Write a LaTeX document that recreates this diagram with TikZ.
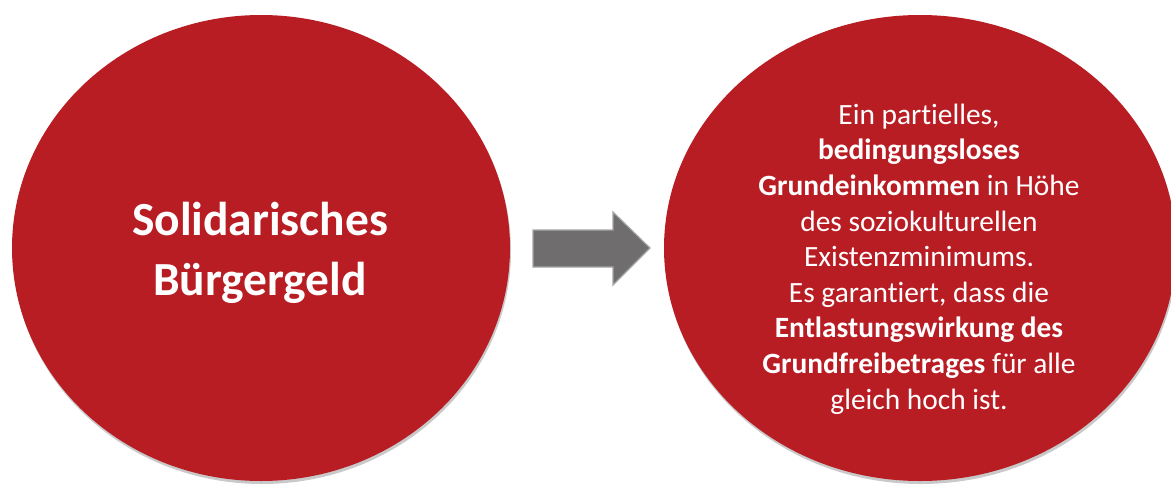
\documentclass[tikz,border=0pt]{standalone}
\usepackage{fontspec}
\setmainfont{Carlito}[Ligatures=NoCommon]
\usetikzlibrary{positioning,shapes.geometric,shadows}

\definecolor{circlered}{RGB}{185,29,36}
\definecolor{arrowgray}{RGB}{111,109,110}
\definecolor{arrowedge}{RGB}{166,166,166}

\begin{document}
\begin{tikzpicture}[
    x=1pt, y=-1pt,
    bubble/.style={ellipse, fill=circlered, inner sep=0pt, outer sep=0pt,
        minimum width=498pt, minimum height=466pt,
        drop shadow={shadow xshift=1pt, shadow yshift=-3pt, opacity=0.35, fill=black!60}},
    bubble text/.style={text=white, align=center}
]
    \clip (0,0) rectangle (1171,488);
    \fill[white] (0,0) rectangle (1171,488);

    % the two circles
    \node[bubble] (left) at (261,248) {};
    \node[bubble text, font=\fontsize{47.5}{60}\selectfont\bfseries] (lefttext) at (260,253)
        {Solidarisches\\Bürgergeld};
    \node[bubble, minimum width=512pt] (right) at (920,248) {};
    \node[bubble text, font=\fontsize{29.4}{35.6}\selectfont] (righttext) at (919,259)
        {Ein partielles,\\
         \textbf{bedingungsloses}\\
         \textbf{Grundeinkommen} in Höhe\\
         des soziokulturellen\\
         Existenzminimums.\\
         Es garantiert, dass die\\
         \textbf{Entlastungswirkung des}\\
         \textbf{Grundfreibetrages} für alle\\
         gleich hoch ist.};

    % block arrow between them
    \draw[fill=arrowgray, draw=arrowedge, line width=1.2pt] (533,230) -- (613,230) -- (613,212)
        -- (650,248) -- (613,285) -- (613,267) -- (533,267) -- cycle;
\end{tikzpicture}
\end{document}
